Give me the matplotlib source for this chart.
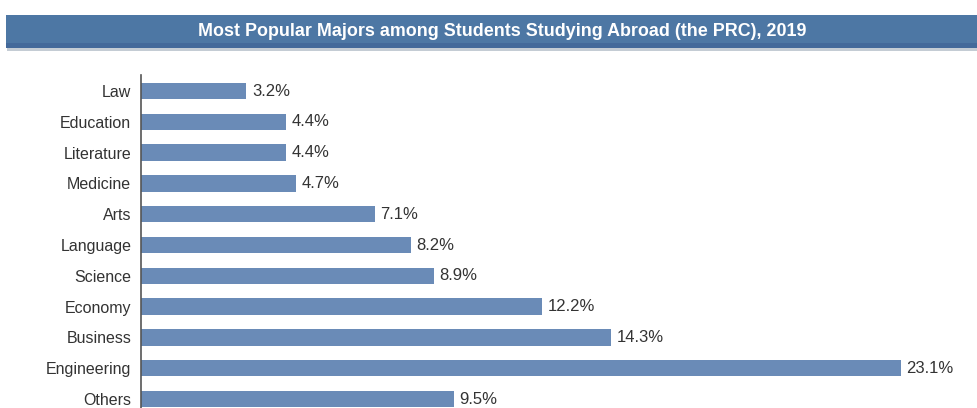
import matplotlib
matplotlib.use("Agg")
import matplotlib.pyplot as plt
from matplotlib.patches import Rectangle

categories = ["Law", "Education", "Literature", "Medicine", "Arts", "Language",
              "Science", "Economy", "Business", "Engineering", "Others"]
values = [3.2, 4.4, 4.4, 4.7, 7.1, 8.2, 8.9, 12.2, 14.3, 23.1, 9.5]
value_labels = ["3.2%", "4.4%", "4.4%", "4.7%", "7.1%", "8.2%", "8.9%",
                "12.2%", "14.3%", "23.1%", "9.5%"]
title = "Most Popular Majors among Students Studying Abroad (the PRC), 2019"

plt.rcParams['font.family'] = ['Liberation Sans', 'DejaVu Sans']

W, H = 978, 408
fig = plt.figure(figsize=(W / 100, H / 100), dpi=100)
fig.patch.set_facecolor("white")

# title banner
fig.patches.append(Rectangle((7 / W, 1 - 51 / H), 1, 33 / H, transform=fig.transFigure,
                             facecolor="#c4ccd4", edgecolor="none", zorder=0))
fig.patches.append(Rectangle((6 / W, 1 - 48 / H), 1, 33 / H, transform=fig.transFigure,
                             facecolor="#4d77a4", edgecolor="none", zorder=1))
fig.patches.append(Rectangle((6 / W, 1 - 48 / H), 1, 5 / H, transform=fig.transFigure,
                             facecolor="#43699a", edgecolor="none", zorder=1))
fig.text(502 / W, 1 - 31.5 / H, title, color="white", fontsize=12.9, fontweight="bold",
         ha="center", va="center", zorder=2)

ax = fig.add_axes([141 / W, 0, (975 - 141) / W, (408 - 75) / H])
y = list(range(len(categories)))
bars = ax.barh(y, values, height=0.53, color="#6a8bb7", edgecolor="none")
ax.set_ylim(10.29, -0.52)
ax.set_xlim(0, (975 - 141) / 32.9)
ax.set_yticks(y)
ax.set_yticklabels(categories, fontsize=11.5, color="#333333")
ax.tick_params(axis="y", length=0, pad=7)
ax.set_xticks([])
for s in ["top", "right", "bottom"]:
    ax.spines[s].set_visible(False)
ax.spines["left"].set_color("#555555")
ax.spines["left"].set_linewidth(1.2)
for rect, lab in zip(bars, value_labels):
    ax.annotate(lab, (rect.get_width(), rect.get_y() + rect.get_height() / 2),
                xytext=(4, 0), textcoords="offset points", va="center", ha="left",
                fontsize=12, color="#333333")

fig.savefig("out.png", dpi=100, facecolor="white")
